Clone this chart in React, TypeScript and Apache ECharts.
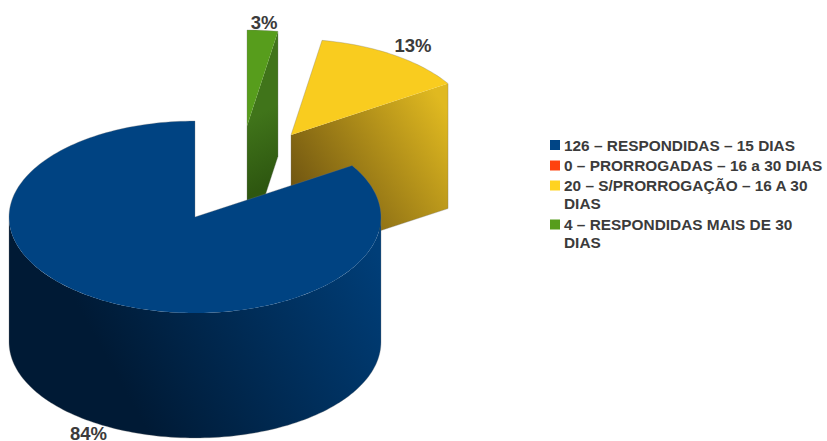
import React, { useEffect, useRef } from "react";
import * as echarts from "echarts";

const categories = [
  "126 – RESPONDIDAS – 15 DIAS",
  "0 – PRORROGADAS – 16 a 30 DIAS",
  "20 – S/PRORROGAÇÃO – 16 A 30 DIAS",
  "4 – RESPONDIDAS MAIS DE 30 DIAS",
];
const legendLines = [
  ["126 – RESPONDIDAS – 15 DIAS"],
  ["0 – PRORROGADAS – 16 a 30 DIAS"],
  ["20 – S/PRORROGAÇÃO – 16 A 30", "DIAS"],
  ["4 – RESPONDIDAS MAIS DE 30", "DIAS"],
];
const values = [126, 0, 20, 4];
const percentLabels = ["84%", "", "13%", "3%"];
const colors = ["#004586", "#ff420e", "#ffd320", "#579d1c"];
const topColors = ["#004382", "#ff420e", "#f9cc1f", "#579d1c"];

const RX = 186;
const RY = 96;
const DEPTH = 125;
const centers: [number, number][] = [
  [195, 217],
  [195, 217],
  [291, 135],
  [247, 126],
];
const zOrder = [10, 1, 3, 2];
const labelOffsets = [
  [-17, 7.5],
  [0, 0],
  [19, -10],
  [1.5, -7.5],
];
const wallGradients = [
  { x: 130, y: 400, x2: 381, y2: 260, a: "#001a35", b: "#003e78" },
  null,
  { x: 295, y: 210, x2: 447, y2: 110, a: "#6a5010", b: "#e0b920" },
  { x: 247, y: 120, x2: 278, y2: 180, a: "#40741a", b: "#2e5710" },
];

const total = values.reduce((s, v) => s + v, 0);
const TEXT = "#3b3b3b";
const FONT = "Liberation Sans";
const EDGE = "rgba(120,120,120,0.45)";

// angles are clockwise from 12 o'clock, slices run counter-clockwise from the top
function sliceAngles(i: number): [number, number] {
  let before = 0;
  for (let k = 0; k < i; k++) before += values[k];
  const end = 360 - (before / total) * 360;
  const start = end - (values[i] / total) * 360;
  return [start, end];
}
function pt(c: [number, number], deg: number, dy = 0): number[] {
  const t = (deg * Math.PI) / 180;
  return [c[0] + RX * Math.sin(t), c[1] - RY * Math.cos(t) + dy];
}
function arc(c: [number, number], a: number, b: number, dy = 0): number[][] {
  const n = Math.max(2, Math.ceil(Math.abs(b - a) / 1.5));
  const out: number[][] = [];
  for (let j = 0; j <= n; j++) out.push(pt(c, a + ((b - a) * j) / n, dy));
  return out;
}
function renderSlice(i: number) {
  return () => {
    if (!values[i]) return { type: "group", children: [] };
    const [a, b] = sliceAngles(i);
    const c = centers[i];
    const g = wallGradients[i]!;
    const fill = new echarts.graphic.LinearGradient(
      g.x, g.y, g.x2, g.y2,
      [{ offset: 0, color: g.a }, { offset: 1, color: g.b }],
      true
    );
    const children: any[] = [];
    let outline: number[][];
    if (i === 0) {
      const frontA = Math.max(a, 90);
      const frontB = Math.min(b, 270);
      const top = arc(c, frontA, frontB);
      const bottom = arc(c, frontB, frontA, DEPTH);
      children.push({ type: "polygon", z2: 1, shape: { points: [...top, ...bottom] }, style: { fill } });
      outline = [c, ...arc(c, a, frontA), ...arc(c, frontA, frontB, DEPTH), ...arc(c, frontB, b)];
    } else {
      const p = pt(c, b);
      children.push({
        type: "polygon",
        z2: 1,
        shape: { points: [p, c, [c[0], c[1] + DEPTH], [p[0], p[1] + DEPTH]] },
        style: { fill },
      });
      outline = [c, ...arc(c, a, b), [p[0], p[1] + DEPTH], [c[0], c[1] + DEPTH]];
    }
    children.push({
      type: "polygon",
      z2: 2,
      shape: { points: [c, ...arc(c, a, b)] },
      style: { fill: topColors[i] },
    });
    children.push({
      type: "polygon",
      z2: 3,
      shape: { points: outline },
      style: { fill: "none", stroke: EDGE, lineWidth: 0.7 },
    });
    const mid = (a + b) / 2;
    const lp = pt(c, mid, i === 0 ? DEPTH : 0);
    children.push({
      type: "text",
      z2: 4,
      style: {
        x: lp[0] + labelOffsets[i][0],
        y: lp[1] + labelOffsets[i][1],
        text: percentLabels[i],
        fill: TEXT,
        font: `bold 18.5px "${FONT}"`,
        align: "center",
        verticalAlign: "middle",
      },
    });
    return { type: "group", children };
  };
}

const legendTops = [145, 165.5, 185.5, 224.5];
const LINE = 18;

export default function App() {
  const ref = useRef<HTMLDivElement>(null);
  useEffect(() => {
    document.body.style.margin = "0";
    const chart = echarts.init(ref.current!, undefined, { renderer: "svg" });
    const legendEls: any[] = [];
    categories.forEach((_, i) => {
      legendEls.push({
        type: "rect",
        shape: { x: 550, y: legendTops[i] - 5, width: 10, height: 10 },
        style: { fill: colors[i] },
      });
      legendLines[i].forEach((line, j) => {
        legendEls.push({
          type: "text",
          style: {
            x: 564,
            y: legendTops[i] + j * LINE,
            text: line,
            fill: TEXT,
            font: `bold 15.4px "${FONT}"`,
            verticalAlign: "middle",
          },
        });
      });
    });
    chart.setOption({
      animation: false,
      backgroundColor: "#ffffff",
      graphic: { elements: legendEls },
      series: categories.map((name, i) => ({
        type: "custom",
        name,
        coordinateSystem: "none",
        z: zOrder[i],
        silent: true,
        data: [values[i]],
        renderItem: renderSlice(i),
      })),
    });
    return () => chart.dispose();
  }, []);
  return <div ref={ref} style={{ position: "absolute", left: 0, top: 0, width: 827, height: 441 }} />;
}
